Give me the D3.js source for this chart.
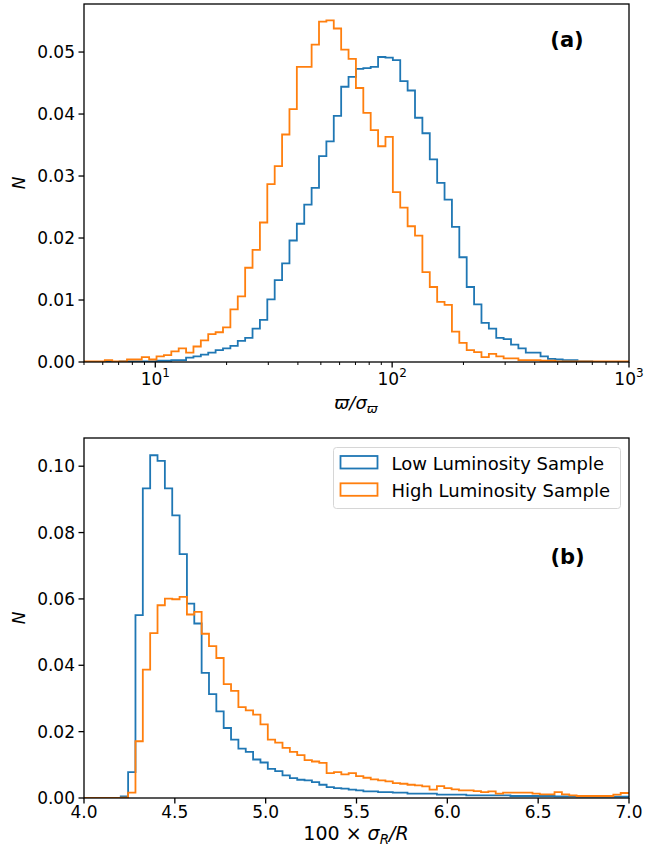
<!DOCTYPE html>
<html>
<head>
<meta charset="utf-8">
<script src="https://cdn.jsdelivr.net/npm/d3@7"></script>
<style>
	body { margin: 0; background: #fff; }
	text { font-family: "DejaVu Sans", sans-serif; fill: #000; }
</style>
</head>
<body>
<svg id="chart" width="668" height="848"></svg>
<script>

// panel (a): parallax / error, log spaced bins
var BinsA = {"logStart": 0.6934, "logStep": 0.03118, "count": 74};

var LowLumA =
[
	0, 0, 0, 0, 0, 0.0001, 0.0001, 0.0001, 0.0001, 0.0001,
	0.0002, 0.0002, 0.0003, 0.0003, 0.0007, 0.0009, 0.0012, 0.0015, 0.0019, 0.0022,
	0.0026, 0.0034, 0.0039, 0.0054, 0.0068, 0.0101, 0.0132, 0.0159, 0.0196, 0.0223,
	0.0254, 0.0281, 0.0332, 0.0356, 0.0397, 0.0444, 0.0460, 0.0473, 0.0474, 0.0476,
	0.0492, 0.0491, 0.0487, 0.0453, 0.0438, 0.0394, 0.0369, 0.0327, 0.0289, 0.0262,
	0.0218, 0.0169, 0.0121, 0.0093, 0.0063, 0.0054, 0.0039, 0.0037, 0.0028, 0.0022,
	0.0015, 0.0015, 0.0009, 0.0005, 0.0004, 0.0003, 0.0003, 0.0001, 0.0001, 0,
	0, 0, 0, 0
];

var HighLumA =
[
	0.0001, 0.0001, 0.0001, 0.0003, 0.0001, 0.0001, 0.0004, 0.0004, 0.0008, 0.0004,
	0.0009, 0.0011, 0.0017, 0.0022, 0.0015, 0.0025, 0.0035, 0.0045, 0.0048, 0.0056,
	0.0085, 0.0106, 0.0152, 0.0181, 0.0225, 0.0287, 0.0316, 0.0367, 0.0408, 0.0476,
	0.0476, 0.0512, 0.0549, 0.0551, 0.0538, 0.0504, 0.0489, 0.0442, 0.0402, 0.0374,
	0.0348, 0.0363, 0.0274, 0.0249, 0.0219, 0.0204, 0.0145, 0.0121, 0.0097, 0.0092,
	0.0049, 0.0031, 0.0019, 0.0016, 0.0008, 0.0013, 0.0009, 0.0006, 0.0006, 0.0003,
	0.0003, 0.0003, 0.0002, 0.0002, 0.0001, 0.0001, 0.0001, 0.0001, 0.0001, 0.0001,
	0.0001, 0.0001, 0.0001, 0.0001
];

// panel (b): 100 x sigma_R / R, linear bins
var BinsB = {"start": 4.0, "step": 0.04047, "count": 75};

var LowLumB =
[
	0, 0, 0, 0, 0, 0.0005, 0.0078, 0.0551, 0.0933, 0.1033,
	0.1016, 0.0933, 0.0852, 0.0735, 0.0586, 0.0526, 0.0377, 0.0313, 0.0261, 0.0211,
	0.0176, 0.0149, 0.0139, 0.0116, 0.0107, 0.0088, 0.0081, 0.0068, 0.0060, 0.0055,
	0.0053, 0.0048, 0.0040, 0.0033, 0.0030, 0.0028, 0.0025, 0.0023, 0.0020, 0.0020,
	0.0018, 0.0018, 0.0016, 0.0016, 0.0013, 0.0013, 0.0013, 0.0013, 0.0010, 0.0010,
	0.0010, 0.0010, 0.0008, 0.0008, 0.0008, 0.0008, 0.0008, 0.0008, 0.0006, 0.0006,
	0.0006, 0.0006, 0.0006, 0.0006, 0.0005, 0.0005, 0.0005, 0.0004, 0.0004, 0.0004,
	0.0004, 0.0004, 0.0004, 0.0004, 0.0004
];

var HighLumB =
[
	0, 0, 0, 0, 0, 0.0001, 0.0016, 0.0171, 0.0387, 0.0497,
	0.0581, 0.0601, 0.0599, 0.0606, 0.0553, 0.0561, 0.0495, 0.0458, 0.0422, 0.0343,
	0.0323, 0.0274, 0.0264, 0.0251, 0.0222, 0.0176, 0.0167, 0.0151, 0.0139, 0.0129,
	0.0114, 0.0110, 0.0106, 0.0075, 0.0078, 0.0071, 0.0075, 0.0066, 0.0061, 0.0056,
	0.0053, 0.0050, 0.0045, 0.0043, 0.0040, 0.0038, 0.0035, 0.0025, 0.0036, 0.0030,
	0.0026, 0.0023, 0.0023, 0.0021, 0.0018, 0.0020, 0.0013, 0.0016, 0.0016, 0.0016,
	0.0016, 0.0013, 0.0011, 0.0011, 0.0018, 0.0011, 0.0008, 0.0006, 0.0006, 0.0006,
	0.0006, 0.0006, 0.0010, 0.0015, 0.0015
];

var TicksYA = [0, 0.01, 0.02, 0.03, 0.04, 0.05];
var TicksYB = [0, 0.02, 0.04, 0.06, 0.08, 0.10];
var TicksXA = [10, 100, 1000];
var TicksXB = [4.0, 4.5, 5.0, 5.5, 6.0, 6.5, 7.0];

var SeriesNames = ["Low Luminosity Sample", "High Luminosity Sample"];
var SeriesColors = ["#1f77b4", "#ff7f0e"];

var Svg = d3.select("#chart");

var PanelA = {"left": 84, "right": 629, "top": 4, "bottom": 362};
var PanelB = {"left": 84, "right": 629, "top": 438, "bottom": 798};

var EdgesA = d3.range(BinsA.count + 1).map(function(i) { return Math.pow(10, BinsA.logStart + i * BinsA.logStep); });
var EdgesB = d3.range(BinsB.count + 1).map(function(i) { return BinsB.start + i * BinsB.step; });

var XA = d3.scaleLog().domain([5, 1000]).range([PanelA.left, PanelA.right]);
var YA = d3.scaleLinear().domain([0, 0.05775]).range([PanelA.bottom, PanelA.top]);
var XB = d3.scaleLinear().domain([4.0, 7.0]).range([PanelB.left, PanelB.right]);
var YB = d3.scaleLinear().domain([0, 0.1085]).range([PanelB.bottom, PanelB.top]);

DrawPanel("a", PanelA, XA, YA, EdgesA, [LowLumA, HighLumA]);
DrawPanel("b", PanelB, XB, YB, EdgesB, [LowLumB, HighLumB]);

// y axes
DrawYAxis(PanelA, YA, TicksYA);
DrawYAxis(PanelB, YB, TicksYB);

// x axis (a): log with minor ticks
var MinorA = [];
[1, 10, 100].forEach(function(dec)
	{
		for (var k = 2; k <= 9; k++)
		{
			if (k * dec >= 5 && k * dec < 1000) MinorA.push(k * dec);
		}
	}
);

var AxisXA = Svg.append("g").attr("transform", "translate(0," + PanelA.bottom + ")");
AxisXA.selectAll("line.minor").data(MinorA).enter().append("line")
	.attr("x1", XA).attr("x2", XA).attr("y1", 0).attr("y2", 3)
	.attr("stroke", "#000").attr("stroke-width", 1);
AxisXA.selectAll("line.major").data(TicksXA).enter().append("line")
	.attr("x1", XA).attr("x2", XA).attr("y1", 0).attr("y2", 5.5)
	.attr("stroke", "#000").attr("stroke-width", 1.3);
var LabA = AxisXA.selectAll("text").data(TicksXA).enter().append("text")
	.attr("x", XA)
	.attr("y", 22.5)
	.attr("text-anchor", "middle")
	.attr("font-size", 17);
LabA.append("tspan").text("10");
LabA.append("tspan").attr("dy", -8).attr("font-size", 12).text(function(d) { return Math.round(Math.log10(d)); });

// x axis (b)
var AxisXB = Svg.append("g").attr("transform", "translate(0," + PanelB.bottom + ")");
AxisXB.selectAll("line").data(TicksXB).enter().append("line")
	.attr("x1", XB).attr("x2", XB).attr("y1", 0).attr("y2", 5.5)
	.attr("stroke", "#000").attr("stroke-width", 1.3);
AxisXB.selectAll("text").data(TicksXB).enter().append("text")
	.attr("x", XB).attr("y", 20)
	.attr("text-anchor", "middle")
	.attr("font-size", 17)
	.text(d3.format(".1f"));

// axis labels
var LabelXA = Svg.append("text").attr("x", 356).attr("y", 409).attr("text-anchor", "middle").attr("font-size", 18).attr("font-style", "italic");
LabelXA.append("tspan").text("\u03D6/\u03C3");
LabelXA.append("tspan").attr("dy", 3.5).attr("font-size", 13).text("\u03D6");

var LabelXB = Svg.append("text").attr("x", 356).attr("y", 840).attr("text-anchor", "middle").attr("font-size", 19);
LabelXB.append("tspan").text("100 \u00D7 ");
LabelXB.append("tspan").attr("font-style", "italic").text("\u03C3");
LabelXB.append("tspan").attr("font-style", "italic").attr("dy", 3.5).attr("font-size", 13.5).text("R");
LabelXB.append("tspan").attr("font-style", "italic").attr("dy", -3.5).text("/R");

[PanelA, PanelB].forEach(function(p)
	{
		Svg.append("text")
			.attr("transform", "translate(24.5," + ((p.top + p.bottom) / 2) + ") rotate(-90)")
			.attr("text-anchor", "middle")
			.attr("font-size", 17)
			.attr("font-style", "italic")
			.text("N");
	}
);

// panel tags
Svg.append("text").attr("x", 567).attr("y", 47).attr("text-anchor", "middle").attr("font-size", 21).attr("font-weight", "bold").text("(a)");
Svg.append("text").attr("x", 567.5).attr("y", 564).attr("text-anchor", "middle").attr("font-size", 21).attr("font-weight", "bold").text("(b)");

// legend
var Legend = Svg.append("g").attr("transform", "translate(333.5,447.5)");
Legend.append("rect")
	.attr("width", 287).attr("height", 61).attr("rx", 3)
	.attr("fill", "#fff").attr("fill-opacity", 0.8)
	.attr("stroke", "#d6d6d6").attr("stroke-width", 1);
var LegendRows = Legend.selectAll("g.row").data(SeriesNames).enter().append("g")
	.attr("transform", function(d, i) { return "translate(0," + (i * 27.3) + ")"; });
LegendRows.append("rect")
	.attr("x", 7).attr("y", 8.5).attr("width", 37).attr("height", 12.5)
	.attr("fill", "none")
	.attr("stroke", function(d, i) { return SeriesColors[i]; })
	.attr("stroke-width", 1.8);
LegendRows.append("text")
	.attr("x", 58).attr("y", 22)
	.attr("font-size", 18)
	.text(function(d) { return d; });

function DrawPanel(name, p, x, y, edges, series)
{
	Svg.append("clipPath").attr("id", "clip" + name)
		.append("rect")
		.attr("x", p.left).attr("y", p.top)
		.attr("width", p.right - p.left).attr("height", p.bottom - p.top);

	var line = d3.line().x(function(d) { return x(d[0]); }).y(function(d) { return y(d[1]); });

	var g = Svg.append("g").attr("clip-path", "url(#clip" + name + ")");
	g.selectAll("path").data(series).enter().append("path")
		.attr("d", function(vals) { return line(StepPoints(edges, vals)); })
		.attr("fill", "none")
		.attr("stroke", function(d, i) { return SeriesColors[i]; })
		.attr("stroke-width", 1.8)
		.attr("stroke-linejoin", "miter");

	Svg.append("rect")
		.attr("x", p.left).attr("y", p.top)
		.attr("width", p.right - p.left).attr("height", p.bottom - p.top)
		.attr("fill", "none").attr("stroke", "#000").attr("stroke-width", 1.3);
}

function StepPoints(edges, vals)
{
	var pts = [[edges[0], 0]];
	vals.forEach(function(v, i)
		{
			pts.push([edges[i], v]);
			pts.push([edges[i + 1], v]);
		}
	);
	pts.push([edges[edges.length - 1], 0]);
	return pts;
}

function DrawYAxis(p, y, ticks)
{
	var g = Svg.append("g").attr("transform", "translate(" + p.left + ",0)");
	g.selectAll("line").data(ticks).enter().append("line")
		.attr("x1", -5.5).attr("x2", 0)
		.attr("y1", y).attr("y2", y)
		.attr("stroke", "#000").attr("stroke-width", 1.3);
	g.selectAll("text").data(ticks).enter().append("text")
		.attr("x", -9).attr("y", y).attr("dy", "0.36em")
		.attr("text-anchor", "end")
		.attr("font-size", 17)
		.text(d3.format(".2f"));
}

</script>
</body>
</html>
